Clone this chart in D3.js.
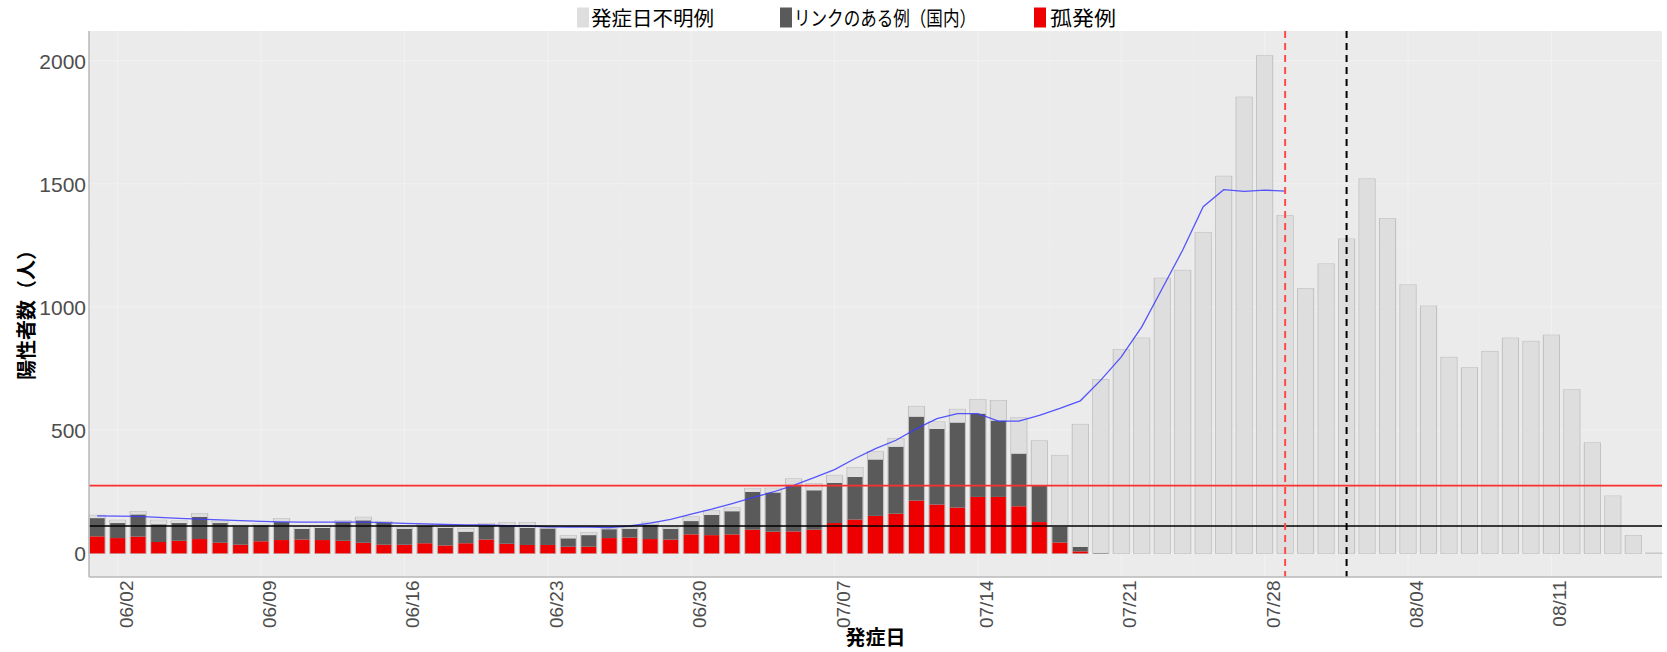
<!DOCTYPE html>
<html><head><meta charset="utf-8">
<script src="https://cdn.jsdelivr.net/npm/d3@7"></script>
<style>
html,body{margin:0;padding:0;background:#fff;}
svg{display:block;}
</style></head>
<body>
<svg id="chart" width="1667" height="652"></svg>
<script>
const dates = ["06/01","06/02","06/03","06/04","06/05","06/06","06/07","06/08","06/09","06/10",
"06/11","06/12","06/13","06/14","06/15","06/16","06/17","06/18","06/19","06/20",
"06/21","06/22","06/23","06/24","06/25","06/26","06/27","06/28","06/29","06/30",
"07/01","07/02","07/03","07/04","07/05","07/06","07/07","07/08","07/09","07/10",
"07/11","07/12","07/13","07/14","07/15","07/16","07/17","07/18","07/19","07/20",
"07/21","07/22","07/23","07/24","07/25","07/26","07/27","07/28","07/29","07/30",
"07/31","08/01","08/02","08/03","08/04","08/05","08/06","08/07","08/08","08/09",
"08/10","08/11","08/12","08/13","08/14","08/15","08/16"];

// 孤発例
const isolated = [69,62,68,46,51,58,43,35,49,54,56,54,51,43,35,35,41,32,41,56,
39,34,34,27,27,62,64,58,56,77,74,77,96,88,89,96,123,137,152,161,
214,198,186,229,229,191,127,44,8,0,0,0,0,0,0,0,0,0,0,0,
0,0,0,0,0,0,0,0,0,0,0,0,0,0,0,0,0];
// リンクのある例（国内）
const linked = [74,61,90,72,72,90,80,75,65,73,44,49,76,91,90,65,72,71,47,58,
75,70,67,34,47,36,36,59,44,54,82,94,153,159,190,160,163,173,229,272,
341,307,345,338,310,214,147,64,18,2,0,0,0,0,0,0,0,0,0,0,
0,0,0,0,0,0,0,0,0,0,0,0,0,0,0,0,0];
// 発症日不明例
const unknown = [11,11,11,16,8,13,7,4,4,14,7,4,6,12,4,3,4,3,12,7,
11,21,2,11,10,2,3,9,4,17,16,13,14,17,23,27,30,38,31,33,
41,28,53,57,81,145,182,289,497,703,827,873,1116,1148,1302,1530,1851,2019,1370,1074,
1174,1275,1519,1358,1089,1003,795,753,819,873,860,885,663,448,232,72,1];
// 移動平均（青線）
const movingAvg = [152,151,150,146,142,139,136,133,130,128,127,127,127,127,125,122,120,117,115,115,
112,111,108,107,107,105,111,123,138,159,179,202,226,249,276,307,340,385,425,459,
506,547,567,567,537,537,560,588,619,703,797,919,1075,1231,1407,1476,1469,1474,1470];

const xTickLabels = ["06/02","06/09","06/16","06/23","06/30","07/07","07/14","07/21","07/28","08/04","08/11"];
const yTicks = [0,500,1000,1500,2000];
const hLineValues = [275, 111];
const hLineColors = ["#ff2e2e", "#000000"];
const vLineDates = ["07/29", "08/01"];
const vLineColors = ["#ff4a4a", "#000000"];
const seriesNames = ["発症日不明例","リンクのある例（国内）","孤発例"];
const seriesColors = ["#dedede","#5a5a5a","#ee0000"];

const svg = d3.select("#chart");
const L = 89, R = 1662, T = 31, B = 577;

const x = d3.scaleLinear().domain([-0.4, dates.length - 1 + 0.4]).range([L, R]);
const y = d3.scaleLinear().domain([-96, 2120]).range([B, T]);
const dayW = x(1) - x(0);
const barW = dayW * 0.78;

// panel
svg.append("rect").attr("x", L).attr("y", T).attr("width", R - L).attr("height", B - T).attr("fill", "#ebebeb");

// grid
const g = svg.append("g");
const minorY = [250,750,1250,1750];
g.selectAll(".mny").data(minorY).join("line")
  .attr("x1", L).attr("x2", R).attr("y1", d => y(d)).attr("y2", d => y(d))
  .attr("stroke", "#eeeeee").attr("stroke-width", 0.8);
g.selectAll(".mjy").data(yTicks).join("line")
  .attr("x1", L).attr("x2", R).attr("y1", d => y(d)).attr("y2", d => y(d))
  .attr("stroke", "#f1f1f1").attr("stroke-width", 1.2);
const tickIdx = xTickLabels.map(t => dates.indexOf(t));
const minorX = tickIdx.map(i => i - 3.5).concat([tickIdx[tickIdx.length-1] + 3.5]);
g.selectAll(".mnx").data(minorX.filter(d => x(d) > L && x(d) < R)).join("line")
  .attr("x1", d => x(d)).attr("x2", d => x(d)).attr("y1", T).attr("y2", B)
  .attr("stroke", "#eeeeee").attr("stroke-width", 0.8);
g.selectAll(".mjx").data(tickIdx).join("line")
  .attr("x1", d => x(d)).attr("x2", d => x(d)).attr("y1", T).attr("y2", B)
  .attr("stroke", "#f1f1f1").attr("stroke-width", 1.2);

// stacked bars
const rows = dates.map((d, i) => ({i, isolated: isolated[i], linked: linked[i], unknown: unknown[i]}));
const stack = d3.stack().keys(["isolated","linked","unknown"]);
const layers = stack(rows);
const layerColors = {isolated: seriesColors[2], linked: seriesColors[1], unknown: seriesColors[0]};
const barsG = svg.append("g");
barsG.selectAll(".outl").data(rows).join("rect")
  .attr("x", d => x(d.i) - barW / 2)
  .attr("y", d => y(d.isolated + d.linked + d.unknown))
  .attr("width", barW)
  .attr("height", d => Math.max(0.01, y(0) - y(d.isolated + d.linked + d.unknown)))
  .attr("fill", "none").attr("stroke", "#c2c2c2").attr("stroke-width", 1.2);
layers.forEach(layer => {
  barsG.append("g").selectAll("rect").data(layer).join("rect")
    .attr("x", d => x(d.data.i) - barW / 2 + 0.5)
    .attr("y", d => y(d[1]))
    .attr("width", barW - 1)
    .attr("height", d => Math.max(0, y(d[0]) - y(d[1])))
    .attr("fill", layerColors[layer.key]);
});

// moving average
const line = d3.line().x((d, i) => x(i)).y(d => y(d));
svg.append("path").datum(movingAvg).attr("d", line)
  .attr("fill", "none").attr("stroke", "#3b3bff").attr("stroke-opacity", 0.85).attr("stroke-width", 1.3);

// horizontal reference lines
svg.selectAll(".hl").data(hLineValues).join("line")
  .attr("x1", L).attr("x2", R).attr("y1", d => y(d)).attr("y2", d => y(d))
  .attr("stroke", (d, i) => hLineColors[i]).attr("stroke-width", 1.6);

// vertical dashed lines
svg.selectAll(".vl").data(vLineDates).join("line")
  .attr("x1", d => x(dates.indexOf(d))).attr("x2", d => x(dates.indexOf(d)))
  .attr("y1", T).attr("y2", B)
  .attr("stroke", (d, i) => vLineColors[i]).attr("stroke-width", 2)
  .attr("stroke-dasharray", "7,5");

// axis lines
svg.append("line").attr("x1", L).attr("x2", L).attr("y1", T).attr("y2", B).attr("stroke", "#b8b8b8").attr("stroke-width", 1.5);
svg.append("line").attr("x1", L).attr("x2", R).attr("y1", B).attr("y2", B).attr("stroke", "#b8b8b8").attr("stroke-width", 1.5);

// y axis
const yAxis = d3.axisLeft(y).tickValues(yTicks).tickSize(0).tickPadding(3).tickFormat(d3.format("d"));
const yG = svg.append("g").attr("transform", `translate(${L},0)`).call(yAxis);
yG.select(".domain").remove();
yG.selectAll("text").attr("font-family", "'Liberation Sans', Arial, sans-serif")
  .attr("font-size", 21).attr("fill", "#4d4d4d").attr("dy", "0.36em");

// x axis
const xAxis = d3.axisBottom(x).tickValues(tickIdx).tickSize(0).tickFormat(d => dates[d]);
const xG = svg.append("g").attr("transform", `translate(0,${B})`).call(xAxis);
xG.select(".domain").remove();
xG.selectAll("text")
  .attr("transform", "rotate(-90)")
  .attr("x", -3.5).attr("y", 14.5).attr("dy", 0)
  .style("text-anchor", "end")
  .attr("font-family", "'Liberation Sans', Arial, sans-serif")
  .attr("font-size", 19).attr("fill", "#4d4d4d");

// axis titles
const cjk = "'Noto Sans CJK JP', 'Noto Sans CJK SC', sans-serif";
svg.append("text").attr("x", (L + R) / 2).attr("y", 645).attr("text-anchor", "middle")
  .attr("font-family", cjk).attr("font-size", 20).attr("font-weight", "bold").attr("fill", "#000")
  .text("発症日");
svg.append("text").attr("transform", "translate(34,310) rotate(-90)").attr("text-anchor", "middle")
  .attr("font-family", cjk).attr("font-size", 20).attr("font-weight", "bold").attr("fill", "#000")
  .text("陽性者数（人）");

// legend
const legendKeyX = [577, 780, 1034];
const legendTextX = [591, 794, 1050];
const legendTextW = [123, 182, 66];
const lg = svg.append("g");
seriesNames.forEach((name, i) => {
  lg.append("rect").attr("x", legendKeyX[i]).attr("y", 7.5).attr("width", 12).attr("height", 20)
    .attr("fill", seriesColors[i]);
  lg.append("text").attr("x", legendTextX[i]).attr("y", 25.5)
    .attr("font-family", cjk).attr("font-size", 20).attr("fill", "#000")
    .attr("textLength", legendTextW[i]).attr("lengthAdjust", "spacingAndGlyphs")
    .text(name);
});
</script>
</body></html>
